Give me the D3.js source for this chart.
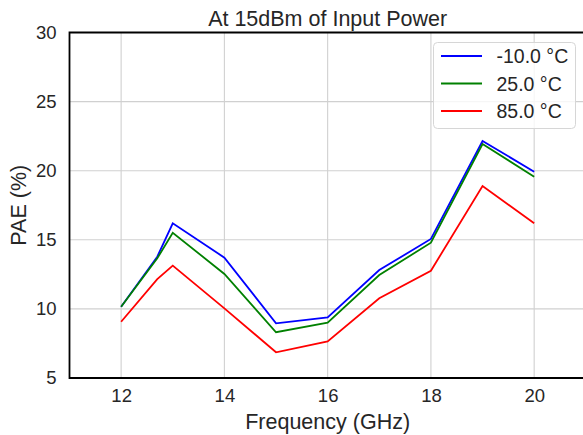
<!DOCTYPE html>
<html>
<head>
<meta charset="utf-8">
<script src="https://cdn.jsdelivr.net/npm/d3@7/dist/d3.min.js"></script>
<style>
  html, body { margin: 0; padding: 0; background: #fff; }
  svg { display: block; font-family: "Liberation Sans", Arial, sans-serif; }
</style>
</head>
<body>
<svg id="chart" width="583" height="435"></svg>
<script>
// Frequencies (GHz) at which PAE was measured
const freqs = [12, 12.7, 13, 14, 15, 16, 17, 18, 19, 20];
// PAE (%) per ambient temperature
const paeCold = [10.16, 13.78, 16.19, 13.71, 8.96, 9.39, 12.81, 15.06, 22.15, 19.93];
const paeRoom = [10.16, 13.66, 15.51, 12.53, 8.31, 9.00, 12.45, 14.79, 21.93, 19.57];
const paeHot  = [9.07, 12.15, 13.13, 10.04, 6.86, 7.65, 10.77, 12.76, 18.89, 16.19];
const seriesNames = ["-10.0 °C", "25.0 °C", "85.0 °C"];
const seriesColors = ["#0000ff", "#008000", "#ff0000"];
const xTicks = [12, 14, 16, 18, 20];
const yTicks = [5, 10, 15, 20, 25, 30];

const series = [paeCold, paeRoom, paeHot].map((vals, i) => ({
  name: seriesNames[i], color: seriesColors[i],
  points: freqs.map((f, j) => ({ f, v: vals[j] }))
}));

const svg = d3.select("#chart");
const plotL = 69.5, plotR = 585.8, plotT = 32.5, plotB = 378;

const x = d3.scaleLinear().domain([11, 21]).range([plotL, plotR]);
const y = d3.scaleLinear().domain([5, 30]).range([plotB, plotT]);

// grid
const grid = svg.append("g");
grid.selectAll(".vg").data(xTicks).join("line")
  .attr("x1", d => x(d)).attr("x2", d => x(d))
  .attr("y1", plotT).attr("y2", plotB)
  .attr("stroke", "#d0d0d0").attr("stroke-width", 1.1);
grid.selectAll(".hg").data(yTicks).join("line")
  .attr("x1", plotL).attr("x2", plotR)
  .attr("y1", d => y(d)).attr("y2", d => y(d))
  .attr("stroke", "#d0d0d0").attr("stroke-width", 1.1);

// axes (tick labels only; spines drawn separately)
const xAxis = svg.append("g").attr("transform", `translate(0,${plotB})`)
  .call(d3.axisBottom(x).tickValues(xTicks).tickSize(0).tickPadding(11).tickFormat(d3.format("d")));
const yAxis = svg.append("g").attr("transform", `translate(${plotL},0)`)
  .call(d3.axisLeft(y).tickValues(yTicks).tickSize(0).tickPadding(13).tickFormat(d3.format("d")));
[xAxis, yAxis].forEach(a => {
  a.select(".domain").remove();
  a.selectAll("text").attr("fill", "#262626").style("font-size", "18.5px")
    .style("font-family", "'Liberation Sans', Arial, sans-serif");
});

// lines
const line = d3.line().x(d => x(d.f)).y(d => y(d.v));
svg.append("g").selectAll("path").data(series).join("path")
  .attr("d", d => line(d.points))
  .attr("fill", "none")
  .attr("stroke", d => d.color)
  .attr("stroke-width", 1.8)
  .attr("stroke-linejoin", "miter");

// spines: left, bottom, top
svg.append("path")
  .attr("d", `M${plotR},${plotT}H${plotL}V${plotB}H${plotR}`)
  .attr("fill", "none").attr("stroke", "#000").attr("stroke-width", 1.8);

// title and axis labels
svg.append("text").attr("x", (plotL + plotR) / 2).attr("y", 26)
  .attr("text-anchor", "middle").attr("fill", "#262626")
  .style("font-size", "21.5px").text("At 15dBm of Input Power");
svg.append("text").attr("x", (plotL + plotR) / 2).attr("y", 429)
  .attr("text-anchor", "middle").attr("fill", "#262626")
  .style("font-size", "21.5px").text("Frequency (GHz)");
svg.append("text").attr("transform", `translate(26,${(plotT + plotB) / 2}) rotate(-90)`)
  .attr("text-anchor", "middle").attr("fill", "#262626")
  .style("font-size", "21.5px").text("PAE (%)");

// legend
const lg = svg.append("g");
lg.append("rect").attr("x", 433.5).attr("y", 42.5).attr("width", 142).attr("height", 86)
  .attr("rx", 4).attr("fill", "#fff").attr("fill-opacity", 0.8)
  .attr("stroke", "#d6d6d6").attr("stroke-width", 1);
const items = lg.selectAll(".item").data(series).join("g")
  .attr("transform", (d, i) => `translate(0,${56 + i * 27.5})`);
items.append("line").attr("x1", 441).attr("x2", 482).attr("y1", 0).attr("y2", 0)
  .attr("stroke", d => d.color).attr("stroke-width", 1.8);
items.append("text").attr("x", 496.5).attr("y", 7).attr("fill", "#262626")
  .style("font-size", "19.5px").text(d => d.name);
</script>
</body>
</html>
